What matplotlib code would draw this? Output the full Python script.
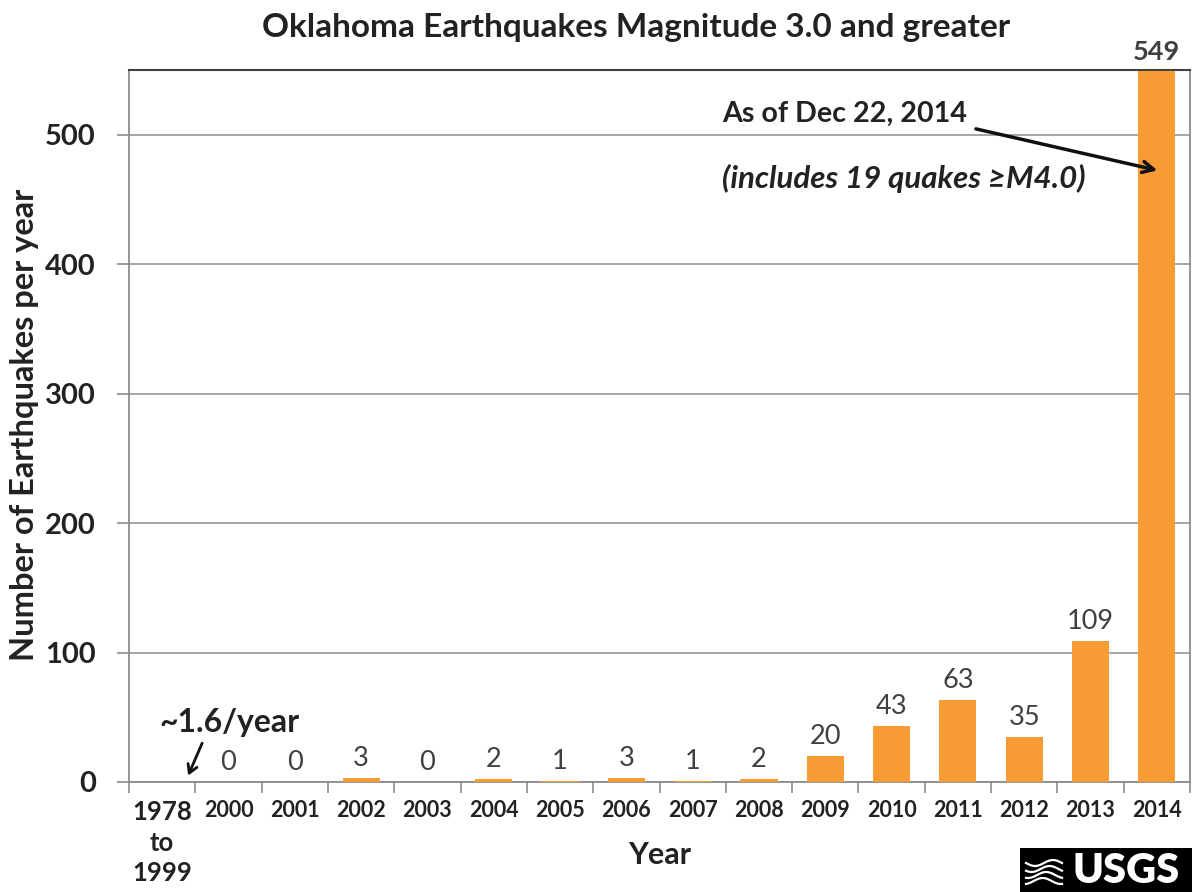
import numpy as np
import matplotlib
matplotlib.use("Agg")
import matplotlib.pyplot as plt
from matplotlib.patches import Rectangle
from matplotlib.lines import Line2D

plt.rcParams['font.family'] = ['Lato', 'DejaVu Sans']

categories = ["1978\nto\n1999", "2000", "2001", "2002", "2003", "2004", "2005",
              "2006", "2007", "2008", "2009", "2010", "2011", "2012", "2013", "2014"]
counts = [np.nan, 0, 0, 3, 0, 2, 1, 3, 1, 2, 20, 43, 63, 35, 109, 549]
yticks = [0, 100, 200, 300, 400, 500]

bar_color = '#F79C34'
label_color = '#404040'
text_color = '#222222'

W, H = 1192, 892
fig = plt.figure(figsize=(W / 100, H / 100), dpi=100)
ax = fig.add_axes([129 / W, 1 - 782 / H, (1190 - 129) / W, (782 - 70) / H])

x = np.arange(len(categories))
vals = np.array(counts, dtype=float)
ax.bar(x, np.nan_to_num(vals), width=0.56, color=bar_color, zorder=3)

for xi, v in zip(x, vals):
    if np.isnan(v):
        continue
    ax.annotate(f"{int(v)}", (xi, v), xytext=(0, 5), textcoords='offset points',
                ha='center', va='bottom', fontsize=19.5, color=label_color,
                fontweight='bold' if v > 500 else 'normal', clip_on=False, zorder=4)

ax.set_xlim(-0.5, len(categories) - 0.5)
ax.set_ylim(0, 550)
ax.set_yticks(yticks)
ax.set_yticklabels([str(t) for t in yticks], fontsize=21, fontweight='bold', color=text_color)
ax.yaxis.grid(True, color='#A6A6A6', linewidth=1.4, zorder=0)
ax.tick_params(axis='y', length=9, width=1.2, color='#8c8c8c', pad=15)

ax.set_xticks(np.arange(-0.5, len(categories), 1))
ax.set_xticklabels([''] * (len(categories) + 1))
ax.tick_params(axis='x', which='major', length=8, width=1.2, color='#8c8c8c')
ax.set_xticks(x, minor=True)
ax.set_xticklabels(categories, minor=True, fontsize=15.5, fontweight='bold',
                   color=text_color, linespacing=1.33)
ax.tick_params(axis='x', which='minor', length=0, pad=13)
first = ax.get_xticklabels(minor=True)[0]
first.set_fontsize(18.5)

for side in ['left', 'bottom', 'right']:
    ax.spines[side].set_color('#8c8c8c')
    ax.spines[side].set_linewidth(1.3)
ax.spines['top'].set_color('#404040')
ax.spines['top'].set_linewidth(1.5)

fig.text(636 / W, 1 - 28 / H, "Oklahoma Earthquakes Magnitude 3.0 and greater",
         ha='center', va='center', fontsize=24, fontweight='bold', color=text_color)
fig.text(25 / W, 1 - 425 / H, "Number of Earthquakes per year", rotation=90,
         ha='center', va='center', fontsize=23.5, fontweight='bold', color=text_color)
fig.text(660 / W, 1 - 855 / H, "Year", ha='center', va='center',
         fontsize=22, fontweight='bold', color=text_color)

# annotations
ax.text(8.44, 516, "As of Dec 22, 2014", ha='left', va='center', fontsize=20.6,
        color=text_color, fontweight='bold', zorder=5)
ax.text(8.44, 466, "(includes 19 quakes \u2265M4.0)", ha='left', va='center', fontsize=22.5,
        color=text_color, fontstyle='italic', fontweight='bold', zorder=5)
ax.annotate("", xy=(15.05, 472), xytext=(12.23, 505),
            arrowprops=dict(arrowstyle='->,head_length=0.8,head_width=0.4', lw=2.5,
                            color='#111111'), zorder=5)

ax.text(1.02, 46, "~1.6/year", ha='center', va='center', fontsize=23,
        fontweight='bold', color=text_color, zorder=5)
ax.annotate("", xy=(0.375, 3), xytext=(0.62, 32),
            arrowprops=dict(arrowstyle='->,head_length=0.6,head_width=0.35', lw=2,
                            color='#111111'), zorder=5)

# USGS logo
fig.add_artist(Rectangle((1020 / W, 0), (W - 1020) / W, 44 / H,
                         transform=fig.transFigure, facecolor='black', edgecolor='none'))
for k in range(4):
    xs = np.linspace(1026, 1062, 30)
    ys = 872 + (k - 1.5) * 6 + 3 * np.sin((xs - 1026) / 36 * 2 * np.pi + k * 0.6)
    fig.add_artist(Line2D(xs / W, 1 - ys / H, transform=fig.transFigure,
                          color='white', lw=1.6))
fig.text(1126 / W, 1 - 871 / H, "USGS", ha='center', va='center', fontsize=30,
         fontweight='heavy', color='white')

fig.savefig("out.png", dpi=100, facecolor='white')
